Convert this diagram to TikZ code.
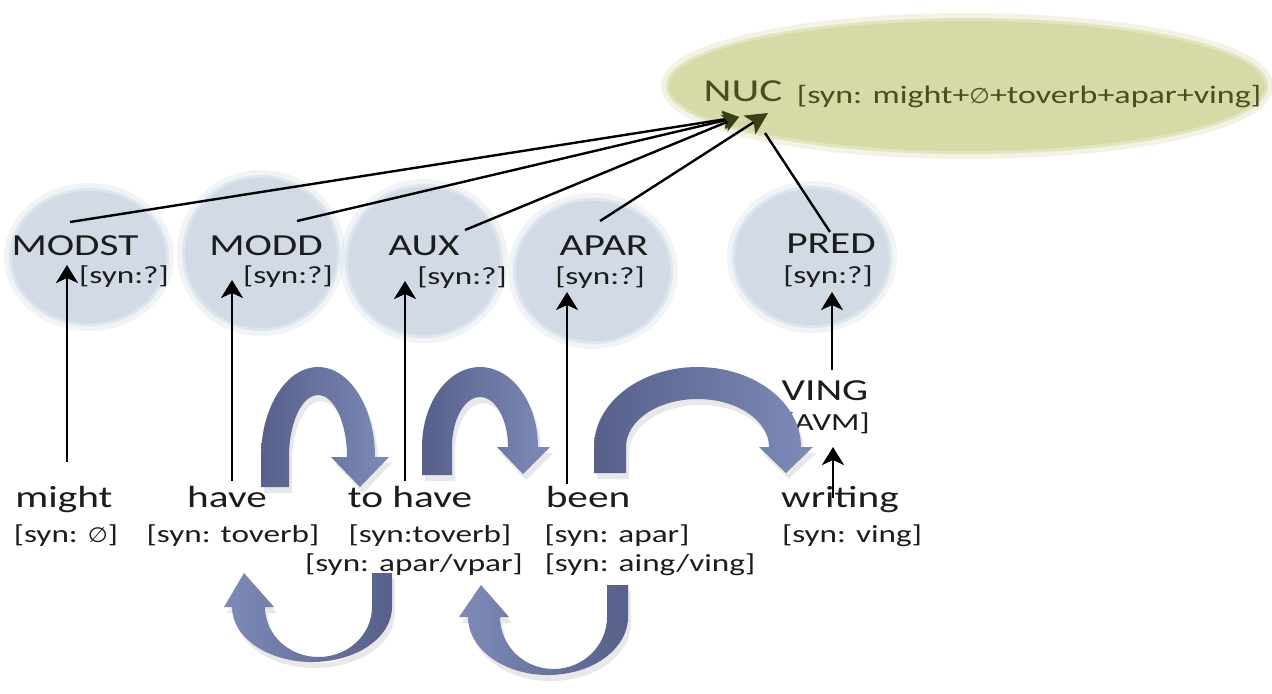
\documentclass[tikz,border=0pt]{standalone}
\usepackage{fontspec}
\setmainfont{Carlito}[FakeStretch=1.35]
\newfontfamily\symf{DejaVu Sans}[FakeStretch=1.1]
\newcommand{\emptymark}{{\symf\fontsize{0.85em}{1em}\selectfont ∅}}
\usetikzlibrary{shapes.geometric,arrows.meta}
\definecolor{circfill}{RGB}{210,219,229}
\definecolor{nucfill}{RGB}{215,218,166}
\definecolor{nuctext}{RGB}{72,78,30}
\definecolor{nuchead}{RGB}{58,64,22}
\definecolor{txt}{RGB}{28,28,28}
\definecolor{bluedark}{RGB}{86,96,138}
\definecolor{bluelight}{RGB}{126,139,184}
\tikzset{
  big/.style={font=\fontsize{15.3}{18}\selectfont, text=txt, inner sep=0pt, anchor=base},
  small/.style={font=\fontsize{12.3}{15}\selectfont, text=txt, inner sep=0pt, anchor=base},
  catcirc/.style={ellipse, fill=circfill, draw=circfill, draw opacity=0.6, line width=3pt,
     preaction={draw=circfill, draw opacity=0.3, line width=8pt}, inner sep=0pt},
  nucell/.style={ellipse, fill=nucfill, draw=nucfill, draw opacity=0.6, line width=3pt,
     preaction={draw=nucfill, draw opacity=0.3, line width=8pt}, inner sep=0pt},
  conn/.style={line width=1.2pt, black},
  uparrow/.style={conn, -{Stealth[length=9pt,width=11pt,inset=2.5pt]}},
  nucarrowA/.style={conn, -{Stealth[length=8pt,width=9pt,inset=2pt,color=nuchead]}},
  nucarrowB/.style={conn, -{Stealth[length=11pt,width=11pt,inset=2.5pt,color=nuchead]}},
  upblock/.style={left color=bluedark, right color=bluelight},
  downblock/.style={left color=bluelight, right color=bluedark},
  blockshadow/.style={fill=black!35, opacity=0.25},
}
\begin{document}
\begin{tikzpicture}[x=0.5pt,y=-0.5pt]
\useasboundingbox[fill=white] (0,0) rectangle (1272,693);

% ---- NUC ellipse ----
\node[nucell, minimum width=298pt, minimum height=65pt] (nucell) at (967,86) {};
\node[font=\fontsize{16}{19}\selectfont, text=nuctext, inner sep=0pt, anchor=base] (nuc) at (743,101) {NUC};
\node[font=\fontsize{12.6}{15}\selectfont, text=nuctext, inner sep=0pt, anchor=base] (nucsyn) at (1029,103) {[syn: might+\emptymark+toverb+apar+ving]};

% ---- category circles ----
\node[catcirc, minimum width=77pt, minimum height=66pt] (cmodst) at (89,257) {};
\node[catcirc, minimum width=76pt, minimum height=75pt] (cmodd) at (261,253) {};
\node[catcirc, minimum width=76pt, minimum height=74pt] (caux) at (424,261) {};
\node[catcirc, minimum width=77pt, minimum height=70pt] (capar) at (593,271) {};
\node[catcirc, minimum width=77pt, minimum height=68pt] (cpred) at (812,257) {};

\node[big] (modst) at (75,255) {MODST};
\node[small] (modstsyn) at (124,283) {[syn:?]};
\node[big] (modd) at (266,255) {MODD};
\node[small] (moddsyn) at (288,283) {[syn:?]};
\node[big] (aux) at (424,255) {AUX};
\node[small] (auxsyn) at (462,284) {[syn:?]};
\node[big] (apar) at (604,255) {APAR};
\node[small] (aparsyn) at (600,284) {[syn:?]};
\node[big] (pred) at (831,253) {PRED};
\node[small] (predsyn) at (828,283) {[syn:?]};

% ---- VING ----
\node[big] (ving) at (825,400) {VING};
\node[small] (avm) at (827,430) {[AVM]};

% ---- words ----
\node[big] (might) at (64,507) {might};
\node[small] (mightsyn) at (66,542) {[syn: \emptymark]};
\node[big] (have) at (227,507) {have};
\node[small] (havesyn) at (233,542) {[syn: toverb]};
\node[big] (tohave) at (410,507) {to have};
\node[small] (tohavesyn) at (430,542) {[syn:toverb]};
\node[small] (tohavesynb) at (414,571) {[syn: apar/vpar]};
\node[big] (been) at (588,507) {been};
\node[small] (beensyn) at (617,542) {[syn: apar]};
\node[small] (beensynb) at (650,571) {[syn: aing/ving]};
\node[big] (writing) at (840,507) {writing};
\node[small] (writingsyn) at (852,542) {[syn: ving]};

% ---- block arrow shadows ----
\begin{scope}[shift={(3,6)}]
\fill[blockshadow] (261,487) -- (261,457) arc[start angle=180,end angle=360,x radius=57,y radius=90] -- (389,457) -- (360,487) -- (331,457) -- (347,457) arc[start angle=360,end angle=180,x radius=29,y radius=62] -- (289,487) -- cycle;
\fill[blockshadow] (422,475) -- (422,447) arc[start angle=180,end angle=360,x radius=58,y radius=80] -- (550,447) -- (523,474) -- (497,447) -- (508,447) arc[start angle=360,end angle=180,x radius=28,y radius=50] -- (452,475) -- cycle;
\fill[blockshadow] (594,473) -- (594,447) arc[start angle=180,end angle=360,x radius=103.5,y radius=80] -- (813,447) -- (786,473) -- (759,447) -- (769,447) arc[start angle=360,end angle=180,x radius=71.5,y radius=48] -- (626,473) -- cycle;
\fill[blockshadow] (392,573) -- (392,607) arc[start angle=0,end angle=180,x radius=80,y radius=55] -- (224,607) -- (244,573) -- (274,607) -- (265,607) arc[start angle=180,end angle=0,x radius=53.5,y radius=50] -- (372,573) -- cycle;
\fill[blockshadow] (628,585) -- (628,617) arc[start angle=0,end angle=180,x radius=80,y radius=58] -- (459,617) -- (481,585) -- (509,617) -- (500,617) arc[start angle=180,end angle=0,x radius=53.5,y radius=52] -- (607,585) -- cycle;
\end{scope}

% ---- block arrows (upper, arching to the right) ----
\shade[upblock] (261,487) -- (261,457) arc[start angle=180,end angle=360,x radius=57,y radius=90] -- (389,457) -- (360,487) -- (331,457) -- (347,457) arc[start angle=360,end angle=180,x radius=29,y radius=62] -- (289,487) -- cycle;
\shade[upblock] (422,475) -- (422,447) arc[start angle=180,end angle=360,x radius=58,y radius=80] -- (550,447) -- (523,474) -- (497,447) -- (508,447) arc[start angle=360,end angle=180,x radius=28,y radius=50] -- (452,475) -- cycle;
\shade[upblock] (594,473) -- (594,447) arc[start angle=180,end angle=360,x radius=103.5,y radius=80] -- (813,447) -- (786,473) -- (759,447) -- (769,447) arc[start angle=360,end angle=180,x radius=71.5,y radius=48] -- (626,473) -- cycle;

% ---- block arrows (lower, crescent U pointing up-left) ----
\shade[downblock] (392,573) -- (392,607) arc[start angle=0,end angle=180,x radius=80,y radius=55] -- (224,607) -- (244,573) -- (274,607) -- (265,607) arc[start angle=180,end angle=0,x radius=53.5,y radius=50] -- (372,573) -- cycle;
\shade[downblock] (628,585) -- (628,617) arc[start angle=0,end angle=180,x radius=80,y radius=58] -- (459,617) -- (481,585) -- (509,617) -- (500,617) arc[start angle=180,end angle=0,x radius=53.5,y radius=52] -- (607,585) -- cycle;

% ---- connector end points ----
\coordinate (nucA) at (739,117);
\coordinate (nucB) at (768,113);
\coordinate (nucC) at (765,133);
\coordinate (modstTop) at (70,222);
\coordinate (moddTop) at (297,221);
\coordinate (auxTop) at (465,230);
\coordinate (aparTop) at (600,221);
\coordinate (predTop) at (830,232);
\coordinate (modstIn) at (67,265);
\coordinate (moddIn) at (232,280);
\coordinate (auxIn) at (405,281);
\coordinate (aparIn) at (567,292);
\coordinate (predIn) at (832,292);
\coordinate (vingIn) at (833,447);
\coordinate (mightOut) at (67,462);
\coordinate (haveOut) at (232,481);
\coordinate (tohaveOut) at (405,481);
\coordinate (beenOut) at (567,484);
\coordinate (vingOut) at (832,370);
\coordinate (writingOut) at (833,498);

% ---- lines up to NUC ----
\draw[nucarrowA] (modstTop) -- (nucA);
\draw[nucarrowA] (moddTop) -- (nucA);
\draw[nucarrowA] (auxTop) -- (nucA);
\draw[nucarrowB] (aparTop) -- (nucB);
\draw[conn] (predTop) -- (nucC);

% ---- vertical arrows ----
\draw[uparrow] (mightOut) -- (modstIn);
\draw[uparrow] (haveOut) -- (moddIn);
\draw[uparrow] (tohaveOut) -- (auxIn);
\draw[uparrow] (beenOut) -- (aparIn);
\draw[uparrow] (vingOut) -- (predIn);
\draw[uparrow] (writingOut) -- (vingIn);
\end{tikzpicture}
\end{document}
